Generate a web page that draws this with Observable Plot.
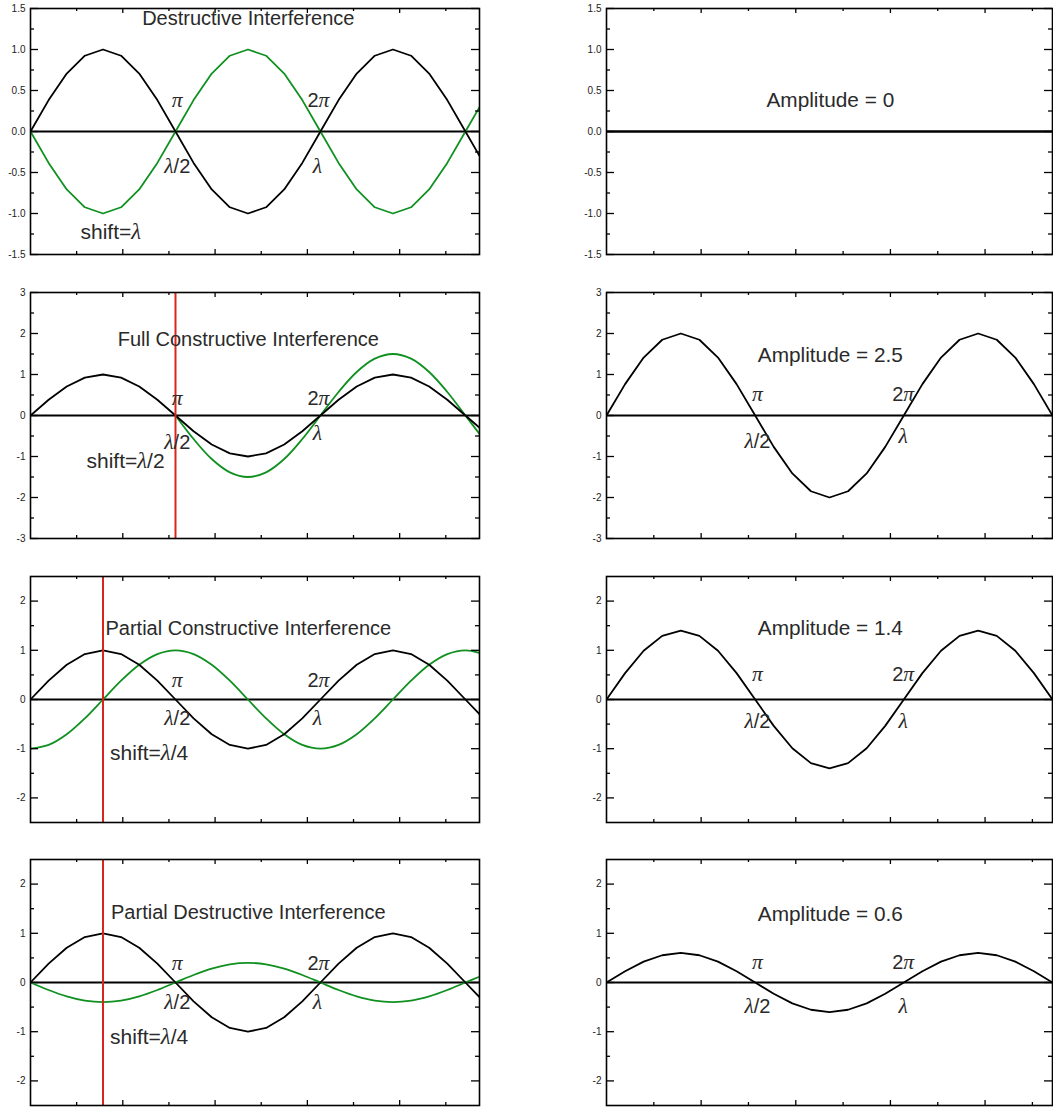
<!DOCTYPE html>
<html>
<head>
<meta charset="utf-8">
<script src="https://cdn.jsdelivr.net/npm/d3@7"></script>
<script src="https://cdn.jsdelivr.net/npm/@observablehq/plot@0.6"></script>
<style>
  html, body { margin: 0; padding: 0; background: #fff; }
  #wrap { position: relative; width: 1053px; height: 1107px; overflow: hidden; background: #fff; }
  .panel { position: absolute; }
  .panel svg { overflow: visible; }
</style>
</head>
<body>
<div id="wrap"></div>
<script>
// ---------------- data ----------------
// phase samples (radians), step of pi/8 as drawn
const xGrid = [0, 0.393, 0.785, 1.178, 1.571, 1.963, 2.356, 2.749, 3.142, 3.534, 3.927, 4.320, 4.712,
  5.105, 5.498, 5.890, 6.283, 6.676, 7.069, 7.461, 7.854, 8.247, 8.639, 9.032, 9.425, 9.817];

// black reference wave (amplitude 1)
const refWave = [0, 0.383, 0.707, 0.924, 1, 0.924, 0.707, 0.383, 0, -0.383, -0.707, -0.924, -1, -0.924,
  -0.707, -0.383, 0, 0.383, 0.707, 0.924, 1, 0.924, 0.707, 0.383, 0, -0.383];

// green (shifted) waves
const greenDestructive = [0, -0.383, -0.707, -0.924, -1, -0.924, -0.707, -0.383, 0, 0.383, 0.707, 0.924, 1,
  0.924, 0.707, 0.383, 0, -0.383, -0.707, -0.924, -1, -0.924, -0.707, -0.383, 0, 0.383];
const xFull = [3.142, 3.534, 3.927, 4.320, 4.712, 5.105, 5.498, 5.890, 6.283, 6.676, 7.069, 7.461, 7.854,
  8.247, 8.639, 9.032, 9.425, 9.817];
const greenFull = [0, -0.574, -1.061, -1.386, -1.5, -1.386, -1.061, -0.574, 0, 0.574, 1.061, 1.386, 1.5,
  1.386, 1.061, 0.574, 0, -0.574];
const greenPartialCon = [-1, -0.924, -0.707, -0.383, 0, 0.383, 0.707, 0.924, 1, 0.924, 0.707, 0.383, 0,
  -0.383, -0.707, -0.924, -1, -0.924, -0.707, -0.383, 0, 0.383, 0.707, 0.924, 1, 0.924];
const greenPartialDes = [0, -0.153, -0.283, -0.370, -0.4, -0.370, -0.283, -0.153, 0, 0.153, 0.283, 0.370,
  0.4, 0.370, 0.283, 0.153, 0, -0.153, -0.283, -0.370, -0.4, -0.370, -0.283, -0.153, 0, 0.153];

// resulting waves (right column), 0 .. 3pi
const xSum = [0, 0.393, 0.785, 1.178, 1.571, 1.963, 2.356, 2.749, 3.142, 3.534, 3.927, 4.320, 4.712,
  5.105, 5.498, 5.890, 6.283, 6.676, 7.069, 7.461, 7.854, 8.247, 8.639, 9.032, 9.425];
const sumDestructive = [0, 0, 0, 0, 0, 0, 0, 0, 0, 0, 0, 0, 0, 0, 0, 0, 0, 0, 0, 0, 0, 0, 0, 0, 0];
const sumFull = [0, 0.765, 1.414, 1.848, 2, 1.848, 1.414, 0.765, 0, -0.765, -1.414, -1.848, -2, -1.848,
  -1.414, -0.765, 0, 0.765, 1.414, 1.848, 2, 1.848, 1.414, 0.765, 0];
const sumPartialCon = [0, 0.536, 0.990, 1.293, 1.4, 1.293, 0.990, 0.536, 0, -0.536, -0.990, -1.293, -1.4,
  -1.293, -0.990, -0.536, 0, 0.536, 0.990, 1.293, 1.4, 1.293, 0.990, 0.536, 0];
const sumPartialDes = [0, 0.230, 0.424, 0.554, 0.6, 0.554, 0.424, 0.230, 0, -0.230, -0.424, -0.554, -0.6,
  -0.554, -0.424, -0.230, 0, 0.230, 0.424, 0.554, 0.6, 0.554, 0.424, 0.230, 0];

// shift markers (red vertical lines)
const shiftLines = [null, 3.142, 1.571, 1.571];

// titles and notes
const leftTitles = ["Destructive Interference", "Full Constructive Interference",
  "Partial Constructive Interference", "Partial Destructive Interference"];
const shiftNotes = ["shift=λ", "shift=λ/2", "shift=λ/4", "shift=λ/4"];
const rightTitles = ["Amplitude = 0", "Amplitude = 2.5", "Amplitude = 1.4", "Amplitude = 0.6"];
const phaseLabels = ["π", "2π"];
const lengthLabels = ["λ/2", "λ"];

// axes
const yDomains = [[-1.5, 1.5], [-3, 3], [-2.5, 2.5], [-2.5, 2.5]];
const yMajorTicks = [[-1.5, -1, -0.5, 0, 0.5, 1, 1.5], [-3, -2, -1, 0, 1, 2, 3], [-2, -1, 0, 1, 2], [-2, -1, 0, 1, 2]];
const yMinorTicks = [[-1.25, -0.75, -0.25, 0.25, 0.75, 1.25], [-2.5, -1.5, -0.5, 0.5, 1.5, 2.5],
  [-1.5, -0.5, 0.5, 1.5], [-1.5, -0.5, 0.5, 1.5]];
const yTickDecimals = [1, 0, 0, 0];
const xMajorTicks = [2, 4, 6, 8];
const xMinorTicks = [1, 3, 5, 7, 9];

// annotation positions (data coordinates)
const leftTitleY = [1.38, 1.85, 1.44, 1.42];
const leftPhaseY = [0.38, 0.42, 0.39, 0.38];
const leftLambdaHalfY = [-0.43, -0.66, -0.39, -0.41];
const leftLambdaY = [-0.43, -0.44, -0.39, -0.41];
const shiftNoteX = [1.74, 2.06, 2.57, 2.57];
const shiftNoteY = [-1.23, -1.12, -1.09, -1.12];
const rightTitleY = [0.38, 1.46, 1.44, 1.39];
const rightPhaseY = [null, 0.52, 0.51, 0.40];
const rightLambdaHalfY = [null, -0.64, -0.45, -0.49];
const rightLambdaY = [null, -0.52, -0.45, -0.49];

// ---------------- drawing ----------------
const GREEN = "#109020";
const RED = "#d8261c";
const TEXT = "#2a2a2a";
const SANS = "Liberation Sans, Arial, Helvetica, sans-serif";
const panelTops = [0, 284, 568, 851];

const left = {x: 0, width: 485, marginLeft: 30, marginRight: 6, xDomain: [0, 9.73]};
const right = {x: 560, width: 493, marginLeft: 46, marginRight: 1, xDomain: [0, 9.425]};
const H = 255, MT = 8, MB = 1;

function series(xs, ys) { return xs.map((x, i) => ({x, y: ys[i]})); }

function axisMarks(i, geom) {
  const fw = geom.width - geom.marginLeft - geom.marginRight;
  const fh = H - MT - MB;
  const fmt = d => d.toFixed(yTickDecimals[i]);
  return [
    Plot.tickY(yMajorTicks[i], {y: d => d, insetRight: fw - 8, stroke: "black", strokeWidth: 1.3}),
    Plot.tickY(yMajorTicks[i], {y: d => d, insetLeft: fw - 8, stroke: "black", strokeWidth: 1.3}),
    Plot.tickY(yMinorTicks[i], {y: d => d, insetRight: fw - 4, stroke: "black", strokeWidth: 1.3}),
    Plot.tickY(yMinorTicks[i], {y: d => d, insetLeft: fw - 4, stroke: "black", strokeWidth: 1.3}),
    Plot.tickX(xMajorTicks, {x: d => d, insetBottom: fh - 5, stroke: "black", strokeWidth: 1.3}),
    Plot.tickX(xMajorTicks, {x: d => d, insetTop: fh - 5, stroke: "black", strokeWidth: 1.3}),
    Plot.tickX(xMinorTicks, {x: d => d, insetBottom: fh - 3, stroke: "black", strokeWidth: 1.3}),
    Plot.tickX(xMinorTicks, {x: d => d, insetTop: fh - 3, stroke: "black", strokeWidth: 1.3}),
    Plot.text(yMajorTicks[i], {y: d => d, text: fmt, frameAnchor: "left", textAnchor: "end", dx: -5,
      fontSize: 10, fill: "#222", fontFamily: SANS}),
    Plot.frame({stroke: "black", strokeWidth: 1.6})
  ];
}

function label(x, y, text, size = 20) {
  return Plot.text([text], {x: () => x, y: () => y, text: d => d, fontSize: size, fill: TEXT,
    fontFamily: SANS, textAnchor: "middle"});
}

function styleGreek(svg) {
  svg.querySelectorAll("text").forEach(t => {
    const s = t.textContent;
    if (!/[πλ]/.test(s) || t.children.length) return;
    t.textContent = "";
    for (const part of s.split(/([πλ])/)) {
      if (!part) continue;
      const ts = document.createElementNS("http://www.w3.org/2000/svg", "tspan");
      if (/[πλ]/.test(part)) {
        ts.setAttribute("font-family", "Liberation Serif, Times New Roman, serif");
        ts.setAttribute("font-style", "italic");
        ts.setAttribute("font-size", "1.08em");
      }
      ts.textContent = part;
      t.appendChild(ts);
    }
  });
}

function place(svg, x, y) {
  const div = document.createElement("div");
  div.className = "panel";
  div.style.left = x + "px";
  div.style.top = y + "px";
  styleGreek(svg);
  div.appendChild(svg);
  document.getElementById("wrap").appendChild(div);
}

const greenSeries = [
  {xs: xGrid, ys: greenDestructive, curve: "linear"},
  {xs: xFull, ys: greenFull, curve: "catmull-rom"},
  {xs: xGrid, ys: greenPartialCon, curve: "catmull-rom"},
  {xs: xGrid, ys: greenPartialDes, curve: "catmull-rom"}
];
const sumSeries = [sumDestructive, sumFull, sumPartialCon, sumPartialDes];

for (let i = 0; i < 4; i++) {
  // ---- left column ----
  const g = greenSeries[i];
  const marks = [
    Plot.ruleY([0], {stroke: "black", strokeWidth: 2}),
    Plot.line(series(g.xs, g.ys), {x: "x", y: "y", stroke: GREEN, strokeWidth: 1.8, curve: g.curve, clip: true}),
    Plot.line(series(xGrid, refWave), {x: "x", y: "y", stroke: "black", strokeWidth: 1.8, clip: true})
  ];
  if (shiftLines[i] != null) {
    marks.push(Plot.ruleX([shiftLines[i]], {stroke: RED, strokeWidth: 2}));
  }
  marks.push(
    label(4.72, leftTitleY[i], leftTitles[i]),
    label(3.18, leftPhaseY[i], phaseLabels[0]),
    label(6.24, leftPhaseY[i], phaseLabels[1]),
    label(3.18, leftLambdaHalfY[i], lengthLabels[0]),
    label(6.22, leftLambdaY[i], lengthLabels[1]),
    label(shiftNoteX[i], shiftNoteY[i], shiftNotes[i], 21),
    ...axisMarks(i, left)
  );
  const pl = Plot.plot({
    width: left.width, height: H,
    marginLeft: left.marginLeft, marginRight: left.marginRight, marginTop: MT, marginBottom: MB,
    style: {background: "white", fontFamily: SANS},
    x: {domain: left.xDomain, axis: null},
    y: {domain: yDomains[i], axis: null},
    marks
  });
  place(pl, left.x, panelTops[i]);

  // ---- right column ----
  const rmarks = [
    Plot.ruleY([0], {stroke: "black", strokeWidth: 2}),
    Plot.line(series(xSum, sumSeries[i]), {x: "x", y: "y", stroke: "black", strokeWidth: 1.8, clip: true}),
    label(4.73, rightTitleY[i], rightTitles[i], 20.8)
  ];
  if (rightPhaseY[i] != null) {
    rmarks.push(
      label(3.19, rightPhaseY[i], phaseLabels[0]),
      label(6.27, rightPhaseY[i], phaseLabels[1]),
      label(3.19, rightLambdaHalfY[i], lengthLabels[0]),
      label(6.27, rightLambdaY[i], lengthLabels[1])
    );
  }
  rmarks.push(...axisMarks(i, right));
  const pr = Plot.plot({
    width: right.width, height: H,
    marginLeft: right.marginLeft, marginRight: right.marginRight, marginTop: MT, marginBottom: MB,
    style: {background: "white", fontFamily: SANS},
    x: {domain: right.xDomain, axis: null},
    y: {domain: yDomains[i], axis: null},
    marks: rmarks
  });
  place(pr, right.x, panelTops[i]);
}
</script>
</body>
</html>
